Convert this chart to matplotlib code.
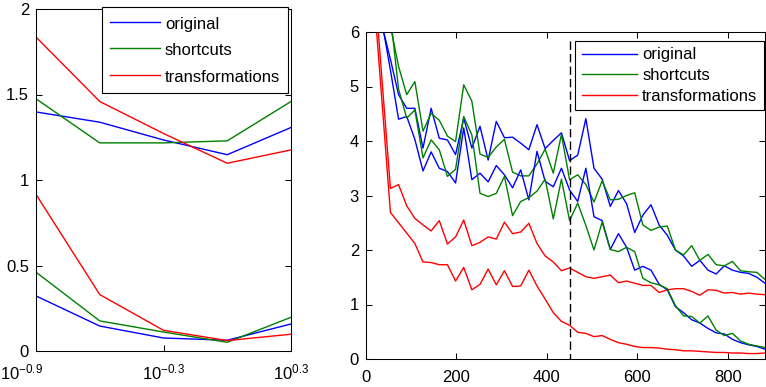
import matplotlib
matplotlib.use("Agg")
import matplotlib.pyplot as plt
import matplotlib.transforms as mtransforms
from matplotlib.ticker import NullLocator
import numpy as np

plt.rcParams["font.family"] = ["Liberation Sans", "DejaVu Sans"]
plt.rcParams["mathtext.fontset"] = "custom"
plt.rcParams["mathtext.rm"] = "Liberation Sans"
plt.rcParams["mathtext.it"] = "Liberation Sans:italic"
plt.rcParams["font.size"] = 12

BLUE = "#0000ff"
GREEN = "#008000"
RED = "#ff0000"
LABELS = ["original", "shortcuts", "transformations"]

# left panel, x = 10 ** exponent
LEFT_EXP = [-0.9, -0.6, -0.3, 0.0, 0.3]
LEFT_TICK_EXP = [-0.9, -0.3, 0.3]
orig_hi = [1.398, 1.338, 1.234, 1.148, 1.307]
short_hi = [1.475, 1.217, 1.217, 1.229, 1.459]
trans_hi = [1.836, 1.459, 1.272, 1.098, 1.176]
orig_lo = [0.322, 0.146, 0.076, 0.063, 0.158]
short_lo = [0.461, 0.176, 0.111, 0.051, 0.197]
trans_lo = [0.916, 0.330, 0.121, 0.061, 0.098]

# right panel, one sample every 18 steps
STEPS = np.arange(18, 883, 18)
SPLIT_X = 450
SPLIT_TOP = 5.83
orig_a = [8.5, 6.1, 5.5, 4.85, 4.60, 4.60, 3.87, 4.60, 4.05, 4.02,
          3.75, 4.42, 3.87, 4.27, 3.65, 4.36, 4.06, 4.07, 3.96, 3.84,
          4.30, 3.86, 4.01, 4.15, 3.64, 3.74, 4.41, 3.50, 3.30, 2.80,
          3.09, 2.85, 2.32, 2.64, 2.83, 2.46, 2.27, 2.00, 1.89, 1.70,
          1.81, 1.63, 1.56, 1.71, 1.63, 1.59, 1.57, 1.50, 1.39]
orig_b = [8.5, 6.15, 5.3, 4.40, 4.45, 4.03, 3.45, 3.80, 3.50, 3.44,
          3.23, 4.24, 3.29, 3.41, 3.25, 3.55, 3.38, 3.14, 3.47, 2.92,
          3.81, 3.26, 3.16, 3.50, 3.10, 2.89, 3.50, 2.61, 2.54, 2.01,
          2.30, 2.05, 1.63, 1.70, 1.63, 1.37, 1.27, 0.96, 0.85, 0.72,
          0.66, 0.56, 0.48, 0.46, 0.36, 0.30, 0.26, 0.23, 0.18]
short_a = [9.0, 7.2, 6.11, 5.37, 4.85, 5.09, 4.18, 4.51, 4.38, 4.09,
           3.99, 5.03, 4.73, 3.76, 3.70, 3.89, 4.03, 3.43, 3.36, 3.36,
           3.58, 3.85, 3.41, 4.12, 3.29, 3.38, 3.20, 2.88, 3.27, 2.92,
           2.93, 3.00, 3.05, 2.46, 2.36, 2.42, 2.44, 2.00, 1.91, 2.08,
           1.81, 1.92, 1.73, 1.71, 1.79, 1.62, 1.60, 1.59, 1.46]
short_b = [9.5, 7.5, 6.3, 4.95, 4.42, 4.57, 3.69, 4.02, 3.84, 3.35,
           3.48, 4.45, 4.11, 3.04, 2.98, 3.04, 3.35, 2.63, 2.89, 2.96,
           3.08, 3.30, 2.57, 3.30, 2.54, 2.86, 2.45, 2.00, 2.51, 2.01,
           1.97, 2.05, 1.97, 1.48, 1.40, 1.36, 1.29, 0.98, 0.79, 0.78,
           0.66, 0.79, 0.53, 0.43, 0.47, 0.33, 0.27, 0.24, 0.21]
trans_a = [7.0, 5.05, 3.13, 3.20, 2.81, 2.58, 2.46, 2.35, 2.54, 2.11,
           2.24, 2.55, 2.08, 2.14, 2.24, 2.20, 2.51, 2.30, 2.33, 2.49,
           2.12, 1.89, 1.78, 1.62, 1.67, 1.59, 1.51, 1.48, 1.51, 1.54,
           1.40, 1.43, 1.39, 1.35, 1.35, 1.22, 1.27, 1.29, 1.29, 1.24,
           1.17, 1.27, 1.26, 1.21, 1.22, 1.19, 1.21, 1.19, 1.18]
trans_b = [6.6, 4.65, 2.69, 2.50, 2.31, 2.12, 1.78, 1.77, 1.73, 1.73,
           1.43, 1.68, 1.27, 1.37, 1.65, 1.36, 1.62, 1.33, 1.34, 1.63,
           1.34, 1.10, 0.85, 0.69, 0.62, 0.49, 0.47, 0.41, 0.43, 0.36,
           0.30, 0.27, 0.23, 0.21, 0.21, 0.20, 0.18, 0.17, 0.15, 0.15,
           0.14, 0.13, 0.12, 0.12, 0.11, 0.11, 0.10, 0.10, 0.11]


def style_axes(ax):
    for s in ax.spines.values():
        s.set_linewidth(0.75)
    ax.tick_params(direction="in", top=True, right=True, length=4,
                   width=0.75, labelsize=12, pad=5)
    ax.tick_params(axis="x", pad=8)


def add_legend(ax, anchor, spacing, pad, hheight, hlength):
    leg = ax.legend(loc="upper right", bbox_to_anchor=anchor, borderaxespad=0,
                    fancybox=False, edgecolor="black", framealpha=1,
                    handlelength=hlength, handletextpad=0.33, borderpad=pad,
                    labelspacing=spacing, handleheight=hheight, fontsize=12)
    leg.get_frame().set_linewidth(0.8)


fig = plt.figure(figsize=(7.66, 3.87), dpi=100)
ax1 = fig.add_axes([36 / 766, 36 / 387, 255 / 766, 342 / 387])
ax2 = fig.add_axes([366 / 766, 28 / 387, 399 / 766, 327 / 387])

lx = [10 ** e for e in LEFT_EXP]
ax1.plot(lx, orig_hi, color=BLUE, lw=1, label=LABELS[0])
ax1.plot(lx, short_hi, color=GREEN, lw=1, label=LABELS[1])
ax1.plot(lx, trans_hi, color=RED, lw=1, label=LABELS[2])
ax1.plot(lx, orig_lo, color=BLUE, lw=1)
ax1.plot(lx, short_lo, color=GREEN, lw=1)
ax1.plot(lx, trans_lo, color=RED, lw=1)
ax1.set_xscale("log")
ax1.set_xlim(10 ** LEFT_EXP[0], 10 ** LEFT_EXP[-1])
ax1.set_ylim(0, 2)
ax1.set_xticks([10 ** e for e in LEFT_TICK_EXP])
ax1.set_xticklabels([rf"$10^{{{e:g}}}$" for e in LEFT_TICK_EXP])
ax1.xaxis.set_minor_locator(NullLocator())
ax1.set_yticks([0, 0.5, 1, 1.5, 2])
ax1.set_yticklabels(["0", "0.5", "1", "1.5", "2"])
style_axes(ax1)
add_legend(ax1, (0.988, 1.007), 0.5, 0.46, 1.3, 3.0)

# keep the first log label inside the canvas, like the original
first = ax1.xaxis.get_major_ticks()[0].label1
first.set_horizontalalignment("left")
first.set_transform(first.get_transform()
                    + mtransforms.ScaledTranslation(-0.355, 0, fig.dpi_scale_trans))

ax2.plot(STEPS, orig_a, color=BLUE, lw=1, label=LABELS[0])
ax2.plot(STEPS, short_a, color=GREEN, lw=1, label=LABELS[1])
ax2.plot(STEPS, trans_a, color=RED, lw=1, label=LABELS[2])
ax2.plot(STEPS, orig_b, color=BLUE, lw=1)
ax2.plot(STEPS, short_b, color=GREEN, lw=1)
ax2.plot(STEPS, trans_b, color=RED, lw=1)
ax2.plot([SPLIT_X, SPLIT_X], [SPLIT_TOP, 0], color="black", lw=1,
         dashes=(6, 3))
ax2.set_xlim(0, STEPS[-1])
ax2.set_ylim(0, 6)
ax2.set_xticks([0, 200, 400, 600, 800])
ax2.set_yticks([0, 1, 2, 3, 4, 5, 6])
style_axes(ax2)
add_legend(ax2, (0.997, 0.972), 0.35, 0.38, 0.7, 3.3)

fig.savefig("out.png", dpi=100)
